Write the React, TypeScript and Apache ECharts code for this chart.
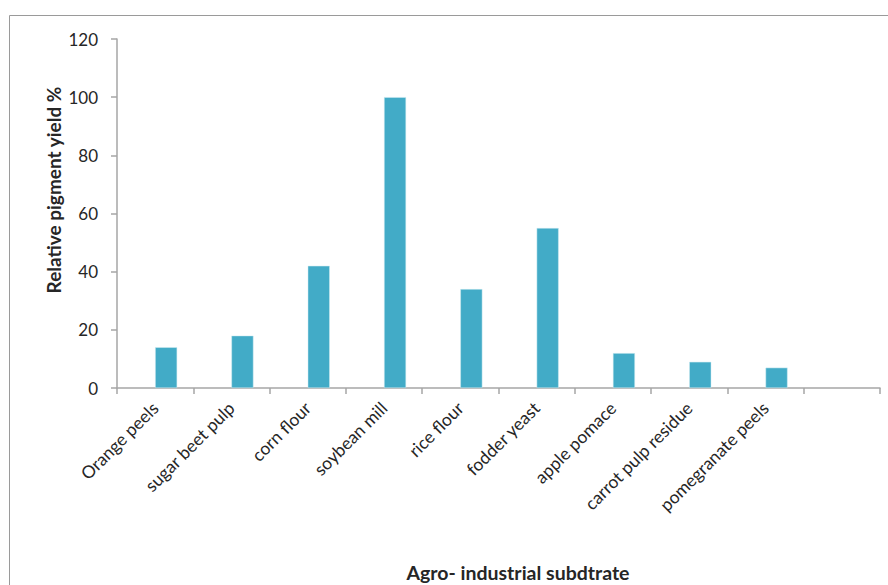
import React, { useEffect, useRef } from "react";
import * as echarts from "echarts";

// Substrates tested (the trailing blank category keeps an empty slot at the end)
const categories = [
  "Orange peels",
  "sugar beet pulp",
  "corn flour",
  "soybean mill",
  "rice flour",
  "fodder yeast",
  "apple pomace",
  "carrot pulp residue",
  "pomegranate peels",
  "",
];

// Relative pigment yield (%) for each substrate
const yieldValues = [14, 18, 42, 100, 34, 55, 12, 9, 7, "-"];

// Placeholder series that holds the left half of each category slot
const spacerValues = ["-", "-", "-", "-", "-", "-", "-", "-", "-", "-"];

const yTicks = { min: 0, max: 120, interval: 20 };

const FONT = "Lato, 'Open Sans', sans-serif";
const TEXT = "#262626";
const AXIS = "#a6a6a6";

export default function App() {
  const ref = useRef<HTMLDivElement>(null);

  useEffect(() => {
    document.body.style.margin = "0";
    if (!ref.current) return;
    const chart = echarts.init(ref.current, null, { renderer: "svg" });
    chart.setOption({
      animation: false,
      backgroundColor: "#ffffff",
      grid: { left: 117, right: 8, top: 39, bottom: 197, containLabel: false },
      xAxis: {
        type: "category",
        data: categories,
        boundaryGap: true,
        axisLine: { show: true, lineStyle: { color: AXIS, width: 1.5 } },
        axisTick: { show: true, length: 6, interval: 0, lineStyle: { color: AXIS, width: 1.5 } },
        axisLabel: {
          interval: 0,
          rotate: 45,
          margin: 17,
          color: TEXT,
          fontFamily: FONT,
          fontSize: 17.5,
        },
      },
      yAxis: {
        type: "value",
        min: yTicks.min,
        max: yTicks.max,
        interval: yTicks.interval,
        splitLine: { show: false },
        axisLine: { show: true, lineStyle: { color: AXIS, width: 1.5 } },
        axisTick: { show: true, length: 6, lineStyle: { color: AXIS, width: 1.5 } },
        axisLabel: { color: TEXT, fontFamily: FONT, fontSize: 17, margin: 19 },
      },
      series: [
        {
          name: "spacer",
          type: "bar",
          data: spacerValues,
          barWidth: 22,
          barGap: "0%",
          silent: true,
        },
        {
          name: "Relative pigment yield",
          type: "bar",
          data: yieldValues,
          barWidth: 22,
          barGap: "0%",
          itemStyle: { color: "#42abc7", borderColor: "#cfeaf1", borderWidth: 0.5 },
        },
      ],
      graphic: [
        {
          type: "rect",
          shape: { x: 9.5, y: 15.5, width: 1000, height: 1000 },
          style: { fill: "none", stroke: "#9a9a9a", lineWidth: 1 },
          silent: true,
        },
        {
          type: "text",
          x: 53,
          y: 190,
          rotation: Math.PI / 2,
          style: {
            text: "Relative pigment yield %",
            fontFamily: FONT,
            fontWeight: "bold",
            fontSize: 19,
            fill: TEXT,
            align: "center",
            verticalAlign: "middle",
          },
        },
        {
          type: "text",
          x: 518,
          y: 572,
          style: {
            text: "Agro- industrial subdtrate",
            fontFamily: FONT,
            fontWeight: "bold",
            fontSize: 19.5,
            fill: TEXT,
            align: "center",
            verticalAlign: "middle",
          },
        },
      ],
    });
    return () => chart.dispose();
  }, []);

  return <div ref={ref} style={{ width: 888, height: 585 }} />;
}
